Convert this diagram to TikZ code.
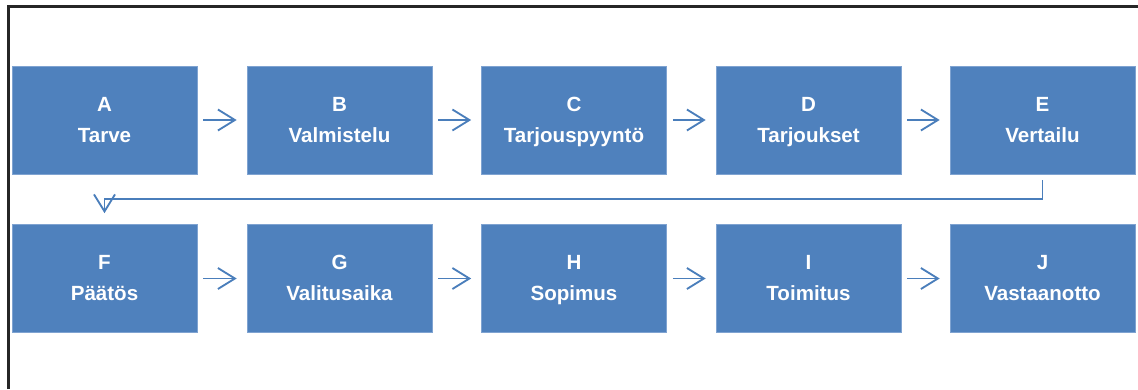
\documentclass[tikz,border=0pt]{standalone}
\usepackage{fontspec}
\setmainfont{Liberation Sans}
\usepackage{xcolor}
\usepackage{tikz}
\usetikzlibrary{arrows.meta}

\definecolor{boxblue}{HTML}{4F81BD}
\definecolor{boxedge}{HTML}{7FA3D1}
\definecolor{arrblue}{HTML}{4A7EBB}

\newcommand{\phasetext}[2]{\rule{0pt}{13pt}#1\\#2\rule[-5.3pt]{0pt}{5.3pt}}

\tikzset{
  phase/.style={fill=boxblue, draw=boxedge, line width=0.4pt,
    minimum width=3.7cm, minimum height=2.16cm, inner sep=0pt,
    text=white, align=center,
    font=\fontsize{11.7}{17.6}\selectfont\bfseries},
  flow/.style={draw=arrblue, line width=1.05pt,
    -{Straight Barb[length=0.34cm, width=0.42cm, line width=1.05pt]}},
}

\begin{document}
\begin{tikzpicture}[x=0.02cm, y=-0.02cm]
        \useasboundingbox (0,0) rectangle (1138,389);
        \draw [line width=1.4pt, black!85] (8.5,389) -- (8.5,6.5) -- (1138,6.5);   %frame

        \node [phase] (A) at (104.5,120)  {\phasetext{A}{Tarve}};            %row 1
        \node [phase] (B) at (339.5,120)  {\phasetext{B}{Valmistelu}};       %
        \node [phase] (C) at (574,120)    {\phasetext{C}{Tarjouspyyntö}};    %
        \node [phase] (D) at (808.5,120)  {\phasetext{D}{Tarjoukset}};       %
        \node [phase] (E) at (1042.5,120) {\phasetext{E}{Vertailu}};         %

        \node [phase] (F) at (104.5,278.5)  {\phasetext{F}{Päätös}};         %row 2
        \node [phase] (G) at (339.5,278.5)  {\phasetext{G}{Valitusaika}};    %
        \node [phase] (H) at (574,278.5)    {\phasetext{H}{Sopimus}};        %
        \node [phase] (I) at (808.5,278.5)  {\phasetext{I}{Toimitus}};       %
        \node [phase] (J) at (1042.5,278.5) {\phasetext{J}{Vastaanotto}};    %

        \draw [flow, shorten <=0.12cm, shorten >=0.2cm] (A) -- (B);      %
        \draw [flow, shorten <=0.12cm, shorten >=0.2cm] (B) -- (C);      %
        \draw [flow, shorten <=0.12cm, shorten >=0.2cm] (C) -- (D);      %
        \draw [flow, shorten <=0.12cm, shorten >=0.2cm] (D) -- (E);      %

        \coordinate (bend) at (574,199);                                 %E to F
        \draw [flow, shorten <=0.12cm, shorten >=0.22cm] (E.south) |- (bend) -| (F.north);

        \draw [flow, shorten <=0.12cm, shorten >=0.2cm] (F) -- (G);      %
        \draw [flow, shorten <=0.12cm, shorten >=0.2cm] (G) -- (H);      %
        \draw [flow, shorten <=0.12cm, shorten >=0.2cm] (H) -- (I);      %
        \draw [flow, shorten <=0.12cm, shorten >=0.2cm] (I) -- (J);      %
      \end{tikzpicture}
\end{document}
